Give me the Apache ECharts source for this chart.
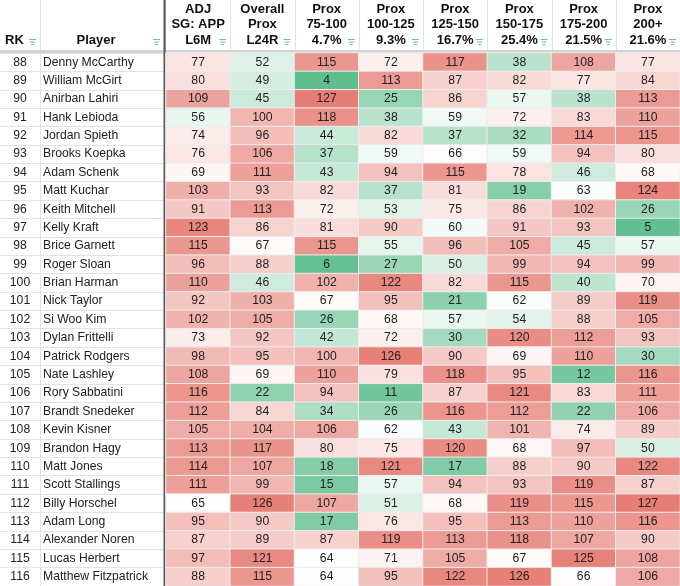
<!DOCTYPE html>
<html><head><meta charset="utf-8">
<script src="https://cdn.jsdelivr.net/npm/echarts@6/dist/echarts.min.js"></script>
<style>html,body{margin:0;padding:0;background:#fff}#c{width:680px;height:586px}</style>
</head><body><div id="c"></div>
<script>
const ranks = [88,89,90,91,92,93,94,95,96,97,98,99,100,101,102,103,104,105,106,107,108,109,110,111,112,113,114,115,116];
const players = ['Denny McCarthy','William McGirt','Anirban Lahiri','Hank Lebioda','Jordan Spieth','Brooks Koepka','Adam Schenk','Matt Kuchar','Keith Mitchell','Kelly Kraft','Brice Garnett','Roger Sloan','Brian Harman','Nick Taylor','Si Woo Kim','Dylan Frittelli','Patrick Rodgers','Nate Lashley','Rory Sabbatini','Brandt Snedeker','Kevin Kisner','Brandon Hagy','Matt Jones','Scott Stallings','Billy Horschel','Adam Long','Alexander Noren','Lucas Herbert','Matthew Fitzpatrick'];
const headers = ['ADJ\nSG: APP\nL6M','Overall\nProx\nL24R','Prox\n75-100\n4.7%','Prox\n100-125\n9.3%','Prox\n125-150\n16.7%','Prox\n150-175\n25.4%','Prox\n175-200\n21.5%','Prox\n200+\n21.6%'];
const adjSgApp   = [77,80,109,56,74,76,69,103,91,123,115,96,110,92,102,73,98,108,116,112,105,113,114,111,65,95,87,97,88];
const overallProx= [52,49,45,100,96,106,111,93,113,86,67,88,46,103,105,92,95,69,22,84,104,117,107,99,126,90,89,121,115];
const prox75_100 = [115,4,127,118,44,37,43,82,72,81,115,6,102,67,26,42,100,110,94,34,106,80,18,15,107,17,87,64,64];
const prox100_125= [72,113,25,38,82,59,94,37,53,90,55,27,122,95,68,72,126,79,11,26,62,75,121,57,51,76,119,71,95];
const prox125_150= [117,87,86,59,37,66,115,81,75,60,96,50,82,21,57,30,90,118,87,116,43,120,17,94,68,95,113,105,122];
const prox150_175= [38,82,57,72,32,59,78,19,86,91,105,99,115,62,54,120,69,95,121,112,101,68,88,93,119,113,118,67,126];
const prox175_200= [108,77,38,83,114,94,46,63,102,93,45,94,40,89,88,112,110,12,83,22,74,97,90,119,115,110,107,125,66];
const prox200plus= [77,84,113,110,115,80,68,124,26,5,57,99,70,119,105,93,30,116,111,106,89,50,122,87,127,116,90,108,106];

const columns = [adjSgApp, overallProx, prox75_100, prox100_125, prox125_150, prox150_175, prox175_200, prox200plus];
const data = [];
columns.forEach((col, c) => col.forEach((v, r) => data.push([c, r, v])));

const FONT = "'Liberation Sans', Arial, Helvetica, sans-serif";
const chart = echarts.init(document.getElementById('c'), null, {renderer: 'canvas'});
const TOP = 53;
const FS = 12.2;

chart.setOption({
  animation: false,
  backgroundColor: '#fff',
  grid: [
    {left: 166, right: -6, top: TOP, bottom: -0.5},
    {left: 0, width: 165, top: TOP, bottom: -0.5}
  ],
  xAxis: [
    {type: 'category', data: headers, position: 'top', gridIndex: 0,
     axisLine: {show: false}, axisTick: {show: false}, splitLine: {show: false},
     axisLabel: {interval: 0, margin: 5, fontFamily: FONT, fontWeight: 'bold', fontSize: 13, lineHeight: 15.5, color: '#111'}},
    {type: 'value', gridIndex: 1, show: false, min: 0, max: 1}
  ],
  yAxis: [
    {type: 'category', data: players, inverse: true, gridIndex: 0,
     axisLine: {show: false}, axisTick: {show: false}, axisLabel: {show: false}, splitLine: {show: false}},
    {type: 'category', data: players, inverse: true, gridIndex: 1,
     axisLine: {show: false}, axisTick: {show: false},
     splitLine: {show: true, interval: 0, lineStyle: {color: '#e3e3e3', width: 1}},
     axisLabel: {inside: true, margin: 0, align: 'left', interval: 0,
       formatter: (v, i) => '{rk|' + ranks[i] + '}{nm|' + v + '}',
       rich: {
         rk: {width: 40, align: 'center', fontFamily: FONT, fontSize: FS, color: '#222'},
         nm: {padding: [0, 0, 0, 3], fontFamily: FONT, fontSize: FS, color: '#222'}
       }}}
  ],
  visualMap: {type: 'continuous', show: false, min: 1, max: 128, seriesIndex: 0,
    inRange: {color: ['#57bb8a', '#ffffff', '#e67c73']}},
  series: [{
    type: 'heatmap', xAxisIndex: 0, yAxisIndex: 0, data: data,
    label: {show: true, fontFamily: FONT, fontSize: FS, color: '#222'},
    itemStyle: {borderColor: '#ececec', borderWidth: 1},
    emphasis: {disabled: true}
  }]
});

// decorations: header separators, frozen dividers, filter icons
const g = [];
const colW = chart.convertToPixel({xAxisIndex: 0}, 1) - chart.convertToPixel({xAxisIndex: 0}, 0);
const colLeft = c => chart.convertToPixel({xAxisIndex: 0}, c) - colW / 2;
const seps = [40];
for (let c = 1; c <= headers.length; c++) seps.push(colLeft(c));
seps.forEach(x => g.push({type: 'line', shape: {x1: Math.round(x) + 0.5, y1: 0, x2: Math.round(x) + 0.5, y2: 50}, style: {stroke: '#e2e2e2', lineWidth: 1}}));
g.push({type: 'line', shape: {x1: 40.5, y1: TOP, x2: 40.5, y2: 586}, style: {stroke: '#e3e3e3', lineWidth: 1}});
g.push({type: 'rect', shape: {x: 0, y: 50, width: 680, height: 3}, style: {fill: '#d4d4d4'}});
g.push({type: 'rect', shape: {x: 163.5, y: 0, width: 2.2, height: 586}, style: {fill: '#5a5a5a'}});
g.push({type: 'text', style: {x: 5, y: 40.5, text: 'RK', font: 'bold 13px ' + FONT, fill: '#111', verticalAlign: 'middle'}});
g.push({type: 'text', style: {x: 96, y: 40.5, text: 'Player', font: 'bold 13px ' + FONT, fill: '#111', align: 'center', verticalAlign: 'middle'}});
function icon(xr) {
  const col = '#72c291';
  [[7, 39.5], [5, 42], [3, 44.5]].forEach(([w, y]) => {
    const cx = xr - 3.5;
    g.push({type: 'line', shape: {x1: cx - w / 2, y1: y, x2: cx + w / 2, y2: y}, style: {stroke: col, lineWidth: 1}});
  });
}
icon(36); icon(160);
for (let c = 0; c < headers.length; c++) icon(colLeft(c) + colW - 4);
chart.setOption({graphic: g});
</script>
</body></html>
